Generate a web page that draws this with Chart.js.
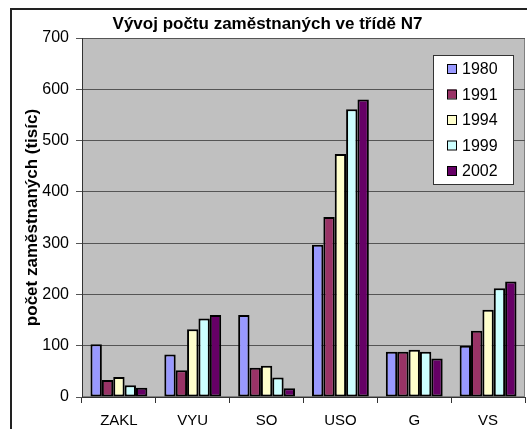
<!DOCTYPE html>
<html>
<head>
<meta charset="utf-8">
<script src="https://cdn.jsdelivr.net/npm/chart.js@4.4.0/dist/chart.umd.min.js"></script>
<style>
  html, body { margin: 0; padding: 0; background: #fff; overflow: hidden; }
  #wrap { width: 527px; height: 429px; position: relative; }
</style>
</head>
<body>
<div id="wrap"><canvas id="graf"></canvas></div>
<script>
// data
const kategorie = ['ZAKL', 'VYU', 'SO', 'USO', 'G', 'VS'];
const roky = ['1980', '1991', '1994', '1999', '2002'];
const r1980 = [103, 83, 160, 297, 88, 100];
const r1991 = [33, 52, 57, 351, 88, 129];
const r1994 = [39, 132, 61, 474, 92, 170];
const r1999 = [23, 153, 38, 561, 88, 212];
const r2002 = [18, 160, 17, 580, 75, 225];
const yTicks = [0, 100, 200, 300, 400, 500, 600, 700];

const barvy = ['#9999FF', '#993366', '#FFFFCC', '#CCFFFF', '#660066'];
const serie = [r1980, r1991, r1994, r1999, r2002];
const pismo = '"Liberation Sans", Arial, sans-serif';

// pozadí grafu, rámeček a legenda
const pozadiPlugin = {
    id: 'pozadi',
    beforeDraw(chart) {
        const { ctx, chartArea: a } = chart;
        ctx.save();
        ctx.fillStyle = '#C0C0C0';
        ctx.fillRect(a.left, a.top, a.right - a.left, a.bottom - a.top);
        ctx.strokeStyle = '#808080';
        ctx.lineWidth = 1;
        ctx.strokeRect(a.left + 0.5, a.top + 0.5, a.right - a.left - 1, a.bottom - a.top - 1);
        // vnější rámeček
        ctx.strokeStyle = '#222';
        ctx.lineWidth = 2;
        ctx.strokeRect(11, 9, chart.width + 20, chart.height + 20);
        ctx.restore();
    },
    afterDraw(chart) {
        const { ctx, chartArea: a } = chart;
        const x = a.right - 92, y = a.top + 17, w = 80, h = 129;
        ctx.save();
        ctx.fillStyle = '#fff';
        ctx.fillRect(x, y, w, h);
        ctx.strokeStyle = '#333';
        ctx.lineWidth = 1;
        ctx.strokeRect(x + 0.5, y + 0.5, w, h);
        ctx.font = '16px ' + pismo;
        ctx.textBaseline = 'middle';
        chart.data.datasets.forEach((ds, i) => {
            const cy = y + 14 + i * 25.5;
            ctx.fillStyle = ds.backgroundColor;
            ctx.fillRect(x + 14, cy - 5, 9, 9);
            ctx.strokeStyle = '#000';
            ctx.strokeRect(x + 14.5, cy - 4.5, 9, 9);
            ctx.fillStyle = '#000';
            ctx.fillText(ds.label, x + 29, cy + 1);
        });
        ctx.restore();
    }
};

const ctx = document.getElementById('graf').getContext('2d');
new Chart(ctx, {
    type: 'bar',
    data: {
        labels: kategorie,
        datasets: roky.map((rok, i) => ({
            label: rok,
            data: serie[i],
            backgroundColor: barvy[i],
            borderColor: '#000',
            borderWidth: 2,
            borderSkipped: false,
            categoryPercentage: 0.77,
            barPercentage: 1.0
        }))
    },
    options: {
        responsive: true,
        maintainAspectRatio: false,
        animation: false,
        layout: { padding: { left: 10, right: 2, top: 0, bottom: 0 } },
        plugins: {
            legend: { display: false },
            tooltip: { enabled: false },
            title: {
                display: true,
                text: 'Vývoj počtu zaměstnaných ve třídě N7',
                color: '#000',
                font: { family: pismo, size: 17, weight: 'bold' },
                padding: { top: 14, bottom: 3.6 }
            }
        },
        scales: {
            x: {
                offset: true,
                grid: { drawOnChartArea: false, drawTicks: true, tickLength: 6, offset: true, color: '#333' },
                border: { color: '#333' },
                ticks: {
                    color: '#000',
                    padding: 9,
                    font: { family: pismo, size: 15 }
                },
                afterFit: (scale) => { scale.height = 32; }
            },
            y: {
                min: 0,
                max: 700,
                afterBuildTicks: (scale) => { scale.ticks = yTicks.map(v => ({ value: v })); },
                grid: { color: '#555', tickLength: 6 },
                border: { color: '#333' },
                ticks: {
                    color: '#000',
                    padding: 7,
                    font: { family: pismo, size: 16 }
                },
                title: {
                    display: true,
                    text: 'počet zaměstnaných (tisíc)',
                    color: '#000',
                    font: { family: pismo, size: 17, weight: 'bold' },
                    padding: { top: 12, bottom: 0 }
                },
                afterFit: (scale) => { scale.width = 72; }
            }
        }
    },
    plugins: [pozadiPlugin]
});
</script>
</body>
</html>
